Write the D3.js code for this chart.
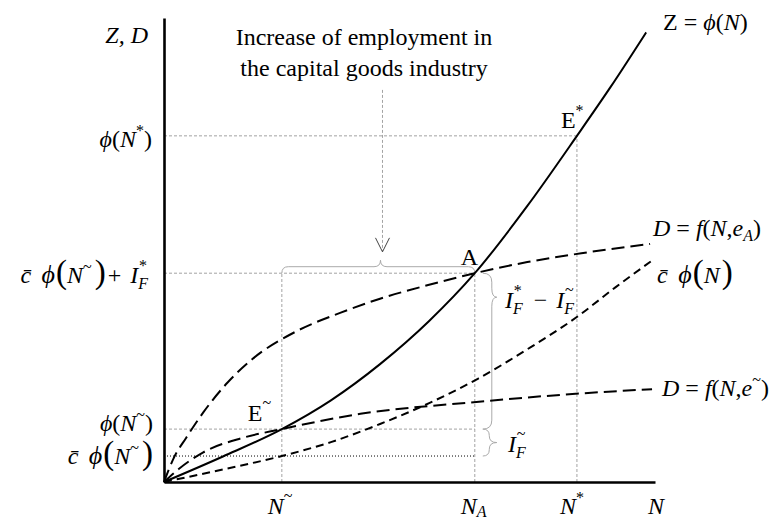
<!DOCTYPE html>
<html>
<head>
<meta charset="utf-8">
<script src="https://cdn.jsdelivr.net/npm/d3@7"></script>
<style>
  body { margin: 0; background: #fff; }
  svg text { font-family: "Liberation Serif", "Times New Roman", serif; font-size: 24px; fill: #000; }
</style>
</head>
<body>
<svg id="chart" width="783" height="519"></svg>
<script>
// key levels (N units 0..100, Z/D units 0..100)
const nTilde = 24, nA = 63.3, nStar = 84.1;
const levelPhiStar = 74.6;    // phi(N*)
const levelA = 45;            // c phi(N~) + I_F*
const levelPhiTilde = 11.4;   // phi(N~)
const levelCPhiTilde = 5.6;   // c phi(N~)
const arrowN = 44.5, arrowTop = 84.5, arrowTip = 49.6;

// Z = phi(N)
const zN = [0, 12, 24, 34, 44, 54, 63.3, 74, 84.1, 91, 98.2];
const zV = [0, 5.5, 11.4, 17.6, 25.4, 34.7, 45, 59.5, 74.6, 85.2, 96.9];
// c phi(N)
const cN = [0, 12, 24, 34, 44, 54, 64, 74, 84, 92, 99.5];
const cV = [0, 2.7, 5.6, 8.6, 12.5, 17.0, 22.3, 28.6, 35.5, 42, 47.8];
// D = f(N, e_A)
const eaN = [0, 2, 4.5, 8, 13, 18, 27, 36, 44, 54, 63.3, 74, 85, 99];
const eaV = [0, 5.2, 9.5, 15, 21.5, 26.5, 32.5, 36.5, 39.5, 42.5, 45, 47.4, 49.3, 51.3];
// D = f(N, e~)
const etN = [0, 3, 8, 16, 24, 40, 62, 85, 99.4];
const etV = [0, 2.8, 6.4, 9.5, 11.4, 14.7, 17.1, 19.1, 20];

const svg = d3.select("#chart");
const x = d3.scaleLinear().domain([0, 100]).range([164, 655]);
const y = d3.scaleLinear().domain([0, 100]).range([482, 18]);

// guide lines
const guides = [
    [[0, levelPhiStar], [nStar, levelPhiStar]],
    [[nStar, 0], [nStar, levelPhiStar]],
    [[0, levelA], [nA, levelA]],
    [[nA, 0], [nA, levelA]],
    [[nTilde, 0], [nTilde, levelA]],
    [[0, levelPhiTilde], [nA, levelPhiTilde]],
    [[arrowN, arrowTop], [arrowN, arrowTip]]
];
const seg = d3.line().x(d => x(d[0])).y(d => y(d[1]));
svg.selectAll("path.guide")
    .data(guides)
    .enter()
    .append("path")
    .attr("class", "guide")
    .attr("d", seg)
    .attr("fill", "none")
    .attr("stroke", "#999")
    .attr("stroke-width", 0.9)
    .attr("stroke-dasharray", "3,2");

// dotted black line at c phi(N~)
svg.append("path")
    .attr("d", seg([[0, levelCPhiTilde], [nA, levelCPhiTilde]]))
    .attr("fill", "none")
    .attr("stroke", "#000")
    .attr("stroke-width", 1)
    .attr("stroke-dasharray", "1,2");

// arrow head
const ax = x(arrowN), ay = y(arrowTip);
svg.append("path")
    .attr("d", `M${ax - 7},${ay - 14} L${ax},${ay} L${ax + 7},${ay - 14}`)
    .attr("fill", "none")
    .attr("stroke", "#444")
    .attr("stroke-width", 1);

// braces
function braceUp(x1, x2, yb, tipX, h) {
    const r = h / 2;
    return `M${x1},${yb} Q${x1},${yb - r} ${x1 + r},${yb - r} L${tipX - r},${yb - r}
            Q${tipX},${yb - r} ${tipX},${yb - h} Q${tipX},${yb - r} ${tipX + r},${yb - r}
            L${x2 - r},${yb - r} Q${x2},${yb - r} ${x2},${yb}`;
}
function braceRight(x0, y1, y2, tipY, h, r) {
    return `M${x0},${y1} Q${x0 + r},${y1} ${x0 + r},${y1 + r} L${x0 + r},${tipY - r}
            Q${x0 + r},${tipY} ${x0 + h},${tipY} Q${x0 + r},${tipY} ${x0 + r},${tipY + r}
            L${x0 + r},${y2 - r} Q${x0 + r},${y2} ${x0},${y2}`;
}
const braces = [
    braceUp(x(nTilde), x(nA), y(levelA), x(arrowN) - 2, 13),
    braceRight(x(nA) + 8, y(levelA), y(levelPhiTilde), y(levelA) + 24, 14, 9),
    braceRight(x(nA) + 8, y(levelPhiTilde), y(levelCPhiTilde), (y(levelPhiTilde) + y(levelCPhiTilde)) / 2, 14, 6.5)
];
svg.selectAll("path.brace")
    .data(braces)
    .enter()
    .append("path")
    .attr("class", "brace")
    .attr("d", d => d)
    .attr("fill", "none")
    .attr("stroke", "#aaa")
    .attr("stroke-width", 1);

// curves
const curve = d3.line()
    .x(d => x(d[0]))
    .y(d => y(d[1]))
    .curve(d3.curveMonotoneX);
const zip = (a, b) => a.map((v, i) => [v, b[i]]);

const curves = [
    {pts: zip(etN, etV), dash: "13,6"},
    {pts: zip(eaN, eaV), dash: "13,6"},
    {pts: zip(cN, cV), dash: "8,5"},
    {pts: zip(zN, zV), dash: null}
];
svg.selectAll("path.curve")
    .data(curves)
    .enter()
    .append("path")
    .attr("class", "curve")
    .attr("d", d => curve(d.pts))
    .attr("fill", "none")
    .attr("stroke", "#000")
    .attr("stroke-width", 2)
    .attr("stroke-dasharray", d => d.dash);

// axes
svg.append("g")
    .attr("transform", `translate(${x(0)},0)`)
    .call(d3.axisLeft(y).tickValues([]).tickSizeOuter(0))
    .select(".domain").attr("stroke", "#000").attr("stroke-width", 2.6);
svg.append("g")
    .attr("transform", `translate(0,${y(0)})`)
    .call(d3.axisBottom(x).tickValues([]).tickSizeOuter(0))
    .select(".domain").attr("stroke", "#000").attr("stroke-width", 2.6);

// rich text labels
function rich(px, py, anchor, parts) {
    const t = svg.append("text").attr("x", px).attr("y", py).attr("text-anchor", anchor);
    let cur = 0;
    parts.forEach(p => {
        const s = p.shift || 0;
        t.append("tspan")
            .attr("dy", s - cur)
            .attr("dx", p.dx || 0)
            .style("font-style", p.it ? "italic" : "normal")
            .style("font-size", (p.size || 24) + "px")
            .text(p.t);
        cur = s;
    });
    return t;
}
const PHI = "\u03D5", CBAR = "c\u0304";
const tildeSup = {t: "~", size: 16, shift: -11};
const starSup = {t: "*", size: 16, shift: -11};

rich(148, 43, "end", [{t: "Z, D", it: true}]);
rich(152, y(levelPhiStar) + 11, "end", [{t: PHI, it: true}, {t: "("}, {t: "N", it: true}, starSup, {t: ")"}]);
rich(148, y(levelA) + 10, "end", [
    {t: CBAR, it: true}, {t: " " + PHI, it: true, size: 26, dx: 4}, {t: "(", size: 33, dx: 1}, {t: "N", it: true}, tildeSup,
    {t: ")", size: 33, dx: 3}, {t: "+", dx: 2}, {t: "I", it: true, dx: 9}, {t: "F", it: true, size: 16, shift: 6},
    {t: "*", size: 16, shift: -12, dx: -9}
]);
rich(153, y(levelPhiTilde) + 2, "end", [{t: PHI, it: true}, {t: "("}, {t: "N", it: true}, tildeSup, {t: ")"}]);
rich(153, y(levelCPhiTilde) + 8, "end", [
    {t: CBAR, it: true}, {t: " " + PHI, it: true, size: 26, dx: 4}, {t: "(", size: 33, dx: 1}, {t: "N", it: true}, tildeSup,
    {t: ")", size: 33, dx: 3}
]);

rich(663, 30, "start", [{t: "Z"}, {t: " = "}, {t: PHI, it: true}, {t: "("}, {t: "N", it: true}, {t: ")"}]);
rich(653, 236, "start", [
    {t: "D", it: true}, {t: " = "}, {t: "f", it: true}, {t: "("}, {t: "N", it: true}, {t: ","},
    {t: "e", it: true}, {t: "A", it: true, size: 16, shift: 5}, {t: ")"}
]);
rich(657, 283, "start", [
    {t: CBAR, it: true}, {t: " " + PHI, it: true, size: 26, dx: 4}, {t: "(", size: 33, dx: 1}, {t: "N", it: true},
    {t: ")", size: 33, dx: 2}
]);
rich(662, 396, "start", [
    {t: "D", it: true}, {t: " = "}, {t: "f", it: true}, {t: "("}, {t: "N", it: true}, {t: ","},
    {t: "e", it: true}, tildeSup, {t: ")"}
]);

rich(x(nStar) - 16, y(levelPhiStar) - 8, "start", [{t: "E"}, {t: "*", size: 16, shift: -12}]);
rich(x(nA) - 14, y(levelA) - 8, "start", [{t: "A"}]);
rich(x(nTilde) - 34, y(levelPhiTilde) - 8, "start", [{t: "E"}, {t: "~", size: 16, shift: -13}]);

rich(505, 308, "start", [
    {t: "I", it: true}, {t: "F", it: true, size: 16, shift: 6}, {t: "*", size: 16, shift: -12, dx: -9},
    {t: "\u2212", dx: 12}, {t: "I", it: true, dx: 9}, {t: "F", it: true, size: 16, shift: 6},
    {t: "~", size: 16, shift: -13, dx: -9}
]);
rich(508, 452, "start", [
    {t: "I", it: true}, {t: "F", it: true, size: 16, shift: 6}, {t: "~", size: 16, shift: -13, dx: -9}
]);

// horizontal axis labels
rich(x(nTilde) - 14, 514, "start", [{t: "N", it: true}, {t: "~", size: 16, shift: -13}]);
rich(x(nA) - 14, 514, "start", [{t: "N", it: true}, {t: "A", it: true, size: 16, shift: 3}]);
rich(x(nStar) - 17, 514, "start", [{t: "N", it: true}, starSup]);
rich(648, 514, "start", [{t: "N", it: true}]);

// annotation
const note = svg.append("text").attr("text-anchor", "middle");
note.append("tspan").attr("x", 364).attr("y", 45).text("Increase of employment in");
note.append("tspan").attr("x", 364).attr("y", 76).text("the capital goods industry");
</script>
</body>
</html>
